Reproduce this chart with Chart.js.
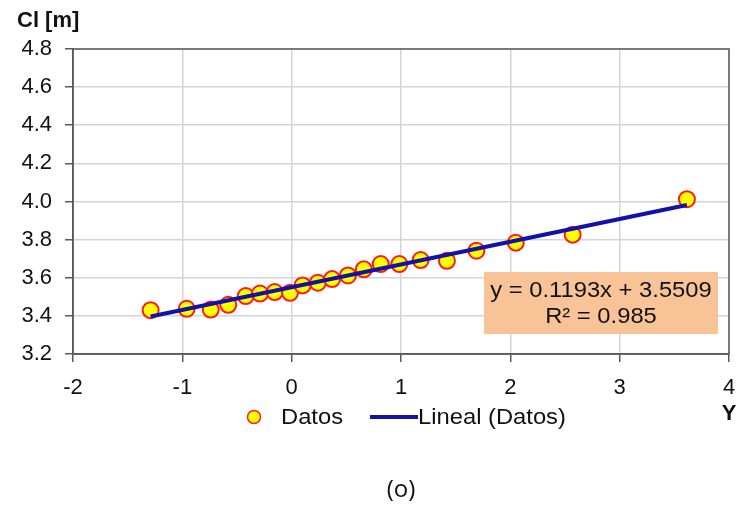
<!DOCTYPE html>
<html>
<head>
<meta charset="utf-8">
<script src="https://cdn.jsdelivr.net/npm/chart.js@4.4.1/dist/chart.umd.min.js"></script>
<style>
  html, body { margin: 0; padding: 0; background: #fff; }
  #wrap { width: 744px; height: 507px; position: relative; }
</style>
</head>
<body>
<div id="wrap"><canvas id="chart"></canvas></div>
<script>
// values
let datosX = [-1.29, -0.96, -0.74, -0.58, -0.42, -0.29, -0.155, -0.015, 0.10, 0.24,
  0.37, 0.515, 0.66, 0.815, 0.985, 1.18, 1.42, 1.69, 2.05, 2.57, 3.615];
let datosY = [3.43, 3.437, 3.433, 3.458, 3.504, 3.517, 3.525, 3.521, 3.56, 3.574,
  3.593, 3.612, 3.644, 3.672, 3.672, 3.693, 3.689, 3.742, 3.784, 3.826, 4.012];
let linealX = [-1.29, 3.615];
let linealY = [3.397, 3.982];
let xTicks = [-2, -1, 0, 1, 2, 3, 4];
let yTicks = [3.2, 3.4, 3.6, 3.8, 4.0, 4.2, 4.4, 4.6, 4.8];
let eqLines = ["y = 0.1193x + 3.5509", "R\u00b2 = 0.985"];

const FONT = "'Liberation Sans', Arial, sans-serif";
const BLUE = "#1212a8";
const INK = "#111";

let toPoints = (xs, ys) => xs.map((x, i) => ({ x: x, y: ys[i] }));

// text a bit wider than the font, like the original export
const wideText = (ctx, txt, x, y, sx) => {
  ctx.save();
  ctx.translate(x, y);
  ctx.scale(sx, 1);
  ctx.fillText(txt, 0, 0);
  ctx.restore();
};

let extras = {
  id: "extras",
  afterDraw(chart) {
    let ctx = chart.ctx;
    let a = chart.chartArea;
    ctx.save();

    // plot frame
    ctx.strokeStyle = "#5a5a5a";
    ctx.lineWidth = 1.5;
    ctx.strokeRect(a.left, a.top, a.right - a.left, a.bottom - a.top);

    // equation box
    ctx.fillStyle = "#f8c397";
    ctx.fillRect(484, 272, 234, 62);
    ctx.fillStyle = INK;
    ctx.font = "22px " + FONT;
    ctx.textAlign = "center";
    ctx.textBaseline = "middle";
    wideText(ctx, eqLines[0], 601, 291, 1.08);
    wideText(ctx, eqLines[1], 601, 317, 1.08);

    // axis titles
    ctx.font = "bold 22px " + FONT;
    ctx.textAlign = "left";
    ctx.fillText("Cl [m]", 17, 21);
    ctx.textAlign = "center";
    ctx.fillText("Y", 729, 414);

    // legend
    ctx.beginPath();
    ctx.arc(254, 417, 6.5, 0, Math.PI * 2);
    ctx.fillStyle = "#ffff00";
    ctx.fill();
    ctx.strokeStyle = "#ff2020";
    ctx.lineWidth = 1.5;
    ctx.stroke();
    ctx.fillStyle = INK;
    ctx.font = "22px " + FONT;
    ctx.textAlign = "left";
    wideText(ctx, "Datos", 281, 418, 1.08);
    ctx.beginPath();
    ctx.moveTo(370, 417);
    ctx.lineTo(418, 417);
    ctx.strokeStyle = BLUE;
    ctx.lineWidth = 4;
    ctx.stroke();
    wideText(ctx, "Lineal (Datos)", 418, 418, 1.08);

    // caption
    ctx.font = "24px 'Open Sans', sans-serif";
    ctx.textAlign = "center";
    ctx.fillText("(o)", 401, 490);
    ctx.restore();
  },
};

let chart = new Chart(document.getElementById("chart"), {
  type: "scatter",
  data: {
    datasets: [
      {
        label: "Lineal (Datos)",
        data: toPoints(linealX, linealY),
        showLine: true,
        borderColor: BLUE,
        borderWidth: 4,
        pointRadius: 0,
        order: 0,
      },
      {
        label: "Datos",
        data: toPoints(datosX, datosY),
        backgroundColor: "#ffff00",
        borderColor: "#ff1a1a",
        borderWidth: 2,
        pointRadius: 8,
        order: 1,
      },
    ],
  },
  options: {
    responsive: true,
    maintainAspectRatio: false,
    animation: false,
    layout: { padding: { left: 0, right: 15, top: 49, bottom: 0 } },
    plugins: {
      legend: { display: false },
      tooltip: { enabled: false },
    },
    scales: {
      x: {
        type: "linear",
        min: -2,
        max: 4,
        afterBuildTicks: (s) => { s.ticks = xTicks.map((v) => ({ value: v })); },
        afterFit: (s) => { s.height = 153; s.paddingRight = 0; },
        grid: { color: "#d4d4d4", lineWidth: 1.5, tickLength: 8, tickColor: "#5a5a5a" },
        border: { color: "#5a5a5a", width: 1.5 },
        ticks: {
          padding: 13,
          color: INK,
          font: { family: FONT, size: 22 },
          callback: (v) => String(v),
        },
      },
      y: {
        min: 3.2,
        max: 4.8,
        afterBuildTicks: (s) => { s.ticks = yTicks.map((v) => ({ value: v })); },
        afterFit: (s) => { s.width = 73; },
        grid: { color: "#d4d4d4", lineWidth: 1.5, tickLength: 8, tickColor: "#5a5a5a" },
        border: { color: "#5a5a5a", width: 1.5 },
        ticks: {
          padding: 13,
          color: INK,
          font: { family: FONT, size: 22 },
          callback: (v) => Number(v).toFixed(1),
        },
      },
    },
  },
  plugins: [extras],
});
</script>
</body>
</html>
